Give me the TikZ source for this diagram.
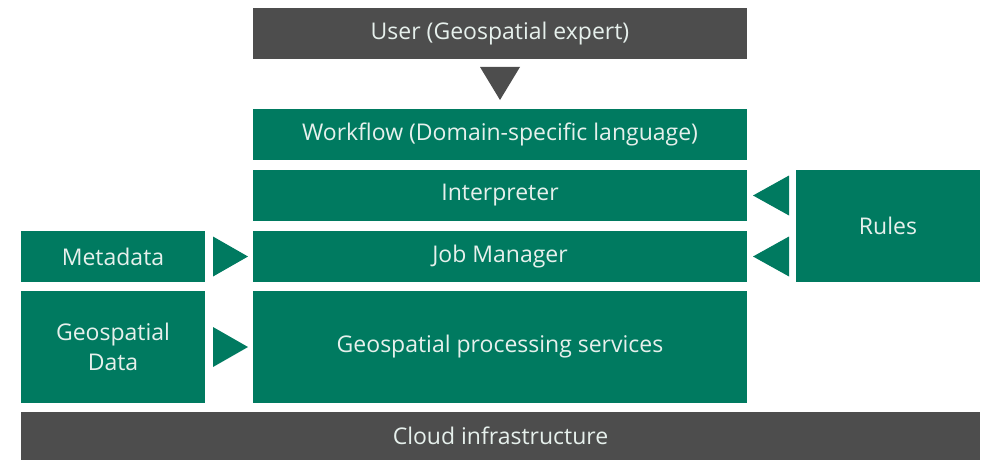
\documentclass[tikz,border=0pt]{standalone}
\usepackage{fontspec}
\setmainfont{Open Sans}
\usetikzlibrary{calc}
\definecolor{grn}{HTML}{007A60}
\definecolor{drk}{HTML}{4D4D4D}
\definecolor{txt}{HTML}{E6F0EC}
\begin{document}
\begin{tikzpicture}[x=1pt,y=-1pt,
  box/.style={fill=grn,draw=none,inner sep=0pt,outer sep=0pt,anchor=north west,text=txt,font=\fontsize{23}{30}\selectfont,align=center},
  dbox/.style={box,fill=drk},
  tri/.style={fill=grn,draw=none}]
\useasboundingbox (0,0) rectangle (982,460);
\node[dbox,minimum width=494pt,minimum height=51pt] (user) at (253,8) {User (Geospatial expert)};
\node[box,minimum width=494pt,minimum height=51pt] (wf) at (253,109) {Workflow (Domain-specific language)};
\node[box,minimum width=494pt,minimum height=51pt] (interp) at (253,170) {Interpreter};
\node[box,minimum width=494pt,minimum height=51pt] (job) at (253,231) {Job Manager};
\node[box,minimum width=494pt,minimum height=112pt] (gps) at (253,291) {Geospatial processing services};
\node[box,minimum width=184pt,minimum height=51pt] (meta) at (21,231) {Metadata};
\node[box,minimum width=184pt,minimum height=112pt] (gdata) at (21,291) {Geospatial\\Data};
\node[box,minimum width=184pt,minimum height=112pt] (rules) at (796,170) {Rules};
\node[dbox,minimum width=959pt,minimum height=48pt] (cloud) at (21,412) {Cloud infrastructure};
% arrowheads
\fill[drk] ($(user.south)+(-20,8)$) -- ($(user.south)+(20,8)$) -- ($(wf.north)+(0,-9)$) -- cycle;
\fill[grn] ($(meta.east)+(8,-20)$) -- ($(meta.east)+(8,20)$) -- ($(job.west)+(-5,0)$) -- cycle;
\fill[grn] ($(gdata.east)+(8,-20)$) -- ($(gdata.east)+(8,20)$) -- ($(gps.west)+(-5,0)$) -- cycle;
\fill[grn] ($(interp.east)+(42,-20)$) -- ($(interp.east)+(42,20)$) -- ($(interp.east)+(6,0)$) -- cycle;
\fill[grn] ($(job.east)+(42,-20)$) -- ($(job.east)+(42,20)$) -- ($(job.east)+(6,0)$) -- cycle;
\end{tikzpicture}
\end{document}
